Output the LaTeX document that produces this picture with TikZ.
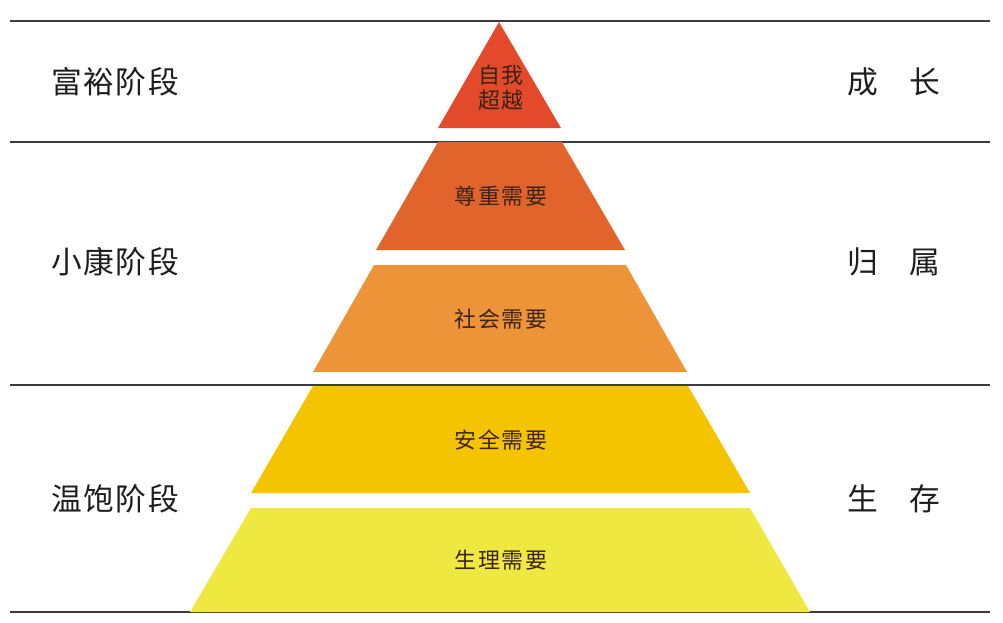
\documentclass[tikz,border=0pt]{standalone}
\usepackage{fontspec}
\usepackage{xcolor}
\usepackage{tikz}
\setmainfont{Noto Sans CJK SC}
\definecolor{selfred}{RGB}{226, 74, 43}
\definecolor{esteemorange}{RGB}{226, 100, 45}
\definecolor{socialorange}{RGB}{236, 148, 55}
\definecolor{safetyyellow}{RGB}{244, 196, 0}
\definecolor{bodyyellow}{RGB}{238, 232, 64}
\definecolor{linegray}{RGB}{60, 60, 60}
\definecolor{textdark}{RGB}{30, 30, 30}
\definecolor{layertext}{RGB}{60, 35, 20}

\begin{document}
\begin{tikzpicture}[
        x=0.02cm, y=-0.02cm,
        stage/.style={text=textdark, font=\fontsize{17.5}{20}\selectfont, inner sep=0pt},
        spaced/.style={font=\fontsize{17.5}{20}\selectfont\addfontfeature{LetterSpace=5}},
        need/.style={text=layertext, font=\fontsize{12.5}{14.2}\selectfont\addfontfeature{LetterSpace=8}, inner sep=0pt, align=center},
        divider/.style={draw=linegray, line width=1.1pt}
    ]
    \useasboundingbox (0,0) rectangle (1003,622);

    % Stage dividers
    \draw[divider] (10,21) -- (990,21);
    \draw[divider] (10,142) -- (990,142);
    \draw[divider] (10,385) -- (990,385);
    \draw[divider] (10,612) -- (990,612);

    % Pyramid layers
    \fill[selfred] (499,22) -- (561,128) -- (438,128) -- cycle;
    \fill[esteemorange] (438,142) -- (562,142) -- (625,250) -- (376,250) -- cycle;
    \fill[socialorange] (374,265) -- (626,265) -- (687,372) -- (313,372) -- cycle;
    \fill[safetyyellow] (313,386) -- (688,386) -- (750,493) -- (251,493) -- cycle;
    \fill[bodyyellow] (251,508) -- (750,508) -- (810,612) -- (190,612) -- cycle;

    % Needs
    \node[need] (selfneed) at (501,88) {自我\\超越};
    \node[need] (esteemneed) at (501,196) {尊重需要};
    \node[need] (socialneed) at (501,319) {社会需要};
    \node[need] (safetyneed) at (501,440) {安全需要};
    \node[need] (bodyneed) at (501,560) {生理需要};

    % Stages on the left
    \node[stage, spaced] (rich) at (115,82) {富裕阶段};
    \node[stage, spaced] (modest) at (115,262) {小康阶段};
    \node[stage, spaced] (basic) at (115,499) {温饱阶段};

    % Goals on the right
    \node[stage] (growth) at (894,82) {成　长};
    \node[stage] (belong) at (894,262) {归　属};
    \node[stage] (survive) at (894,499) {生　存};

\end{tikzpicture}
\end{document}
